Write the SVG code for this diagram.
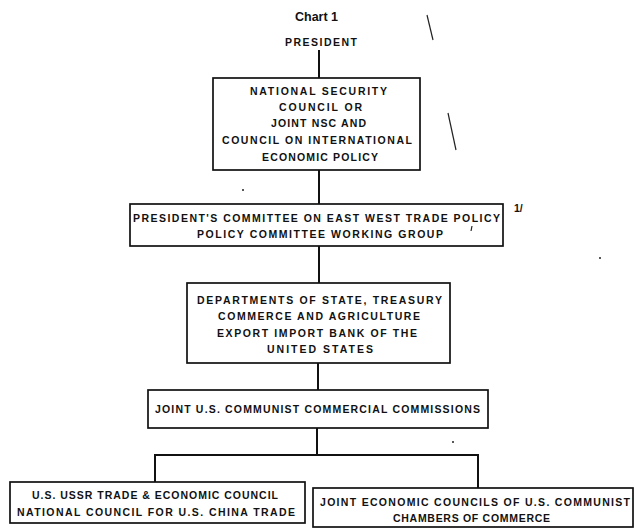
<svg xmlns="http://www.w3.org/2000/svg" width="634" height="529" viewBox="0 0 634 529">
<style>
.bg{fill:#ffffff}
.box{fill:none;stroke:#111;stroke-width:1.7}
.con{fill:none;stroke:#111;stroke-width:2}
.t{font-family:"Liberation Sans",Arial,sans-serif;font-weight:bold;font-size:10.5px;fill:#111}
.title{font-family:"Liberation Sans",Arial,sans-serif;font-weight:bold;font-size:13px;fill:#111}
.mark{fill:none;stroke:#222;stroke-width:1.2}
</style>
<rect class="bg" x="0" y="0" width="634" height="529"/>
<text class="title" x="295" y="21" textLength="43" lengthAdjust="spacingAndGlyphs">Chart 1</text>
<g id="president">
<text class="t" x="285" y="46" textLength="72" lengthAdjust="spacing">PRESIDENT</text>
</g>
<g id="connectors">
<path class="con" d="M319,50 V78"/>
<path class="con" d="M319,170 V204"/>
<path class="con" d="M319,246 V283"/>
<path class="con" d="M318,363 V390"/>
<path class="con" d="M317,428 V455 M155,455 H478 M155,454 V482 M478,454 V488"/>
</g>
<g id="nsc">
<rect class="box" x="213" y="78" width="207" height="92"/>
<text class="t" x="250" y="95" textLength="137" lengthAdjust="spacing">NATIONAL SECURITY</text>
<text class="t" x="279" y="111" textLength="83" lengthAdjust="spacing">COUNCIL OR</text>
<text class="t" x="271" y="127" textLength="95" lengthAdjust="spacing">JOINT NSC AND</text>
<text class="t" x="222" y="144" textLength="190" lengthAdjust="spacing">COUNCIL ON INTERNATIONAL</text>
<text class="t" x="262" y="161" textLength="116" lengthAdjust="spacing">ECONOMIC POLICY</text>
</g>
<g id="committee">
<rect class="box" x="130" y="204" width="373" height="42"/>
<text class="t" x="133" y="222" textLength="367" lengthAdjust="spacing">PRESIDENT'S COMMITTEE ON EAST WEST TRADE POLICY</text>
<text class="t" x="197" y="238" textLength="246" lengthAdjust="spacing">POLICY COMMITTEE WORKING GROUP</text>
</g>
<g id="departments">
<rect class="box" x="187" y="283" width="263" height="80"/>
<text class="t" x="197" y="304" textLength="245" lengthAdjust="spacing">DEPARTMENTS OF STATE, TREASURY</text>
<text class="t" x="218" y="320" textLength="202" lengthAdjust="spacing">COMMERCE AND AGRICULTURE</text>
<text class="t" x="217" y="337" textLength="200" lengthAdjust="spacing">EXPORT IMPORT BANK OF THE</text>
<text class="t" x="267" y="353" textLength="106" lengthAdjust="spacing">UNITED STATES</text>
</g>
<g id="commissions">
<rect class="box" x="148" y="390" width="340" height="38"/>
<text class="t" x="155" y="413" textLength="325" lengthAdjust="spacing">JOINT U.S. COMMUNIST COMMERCIAL COMMISSIONS</text>
</g>
<g id="councils">
<rect class="box" x="10" y="482" width="295" height="41"/>
<text class="t" x="32" y="499" textLength="246" lengthAdjust="spacing">U.S. USSR TRADE &amp; ECONOMIC COUNCIL</text>
<text class="t" x="17" y="516" textLength="278" lengthAdjust="spacing">NATIONAL COUNCIL FOR U.S. CHINA TRADE</text>
</g>
<g id="chambers">
<rect class="box" x="313" y="488" width="320" height="39"/>
<text class="t" x="320" y="506" textLength="310" lengthAdjust="spacing">JOINT ECONOMIC COUNCILS OF U.S. COMMUNIST</text>
<text class="t" x="393" y="522" textLength="157" lengthAdjust="spacing">CHAMBERS OF COMMERCE</text>
</g>
<g id="marks">
<path class="mark" d="M427,15 L433,40"/>
<path class="mark" d="M448,113 L456,150"/>
<path class="mark" d="M472,226 L471,231"/>
<text class="t" x="514" y="212" font-size="10">1/</text>
<circle cx="453" cy="442" r="1" fill="#222"/>
<circle cx="243" cy="190" r="1" fill="#222"/>
<circle cx="600" cy="258" r="1" fill="#222"/>
</g>
</svg>
